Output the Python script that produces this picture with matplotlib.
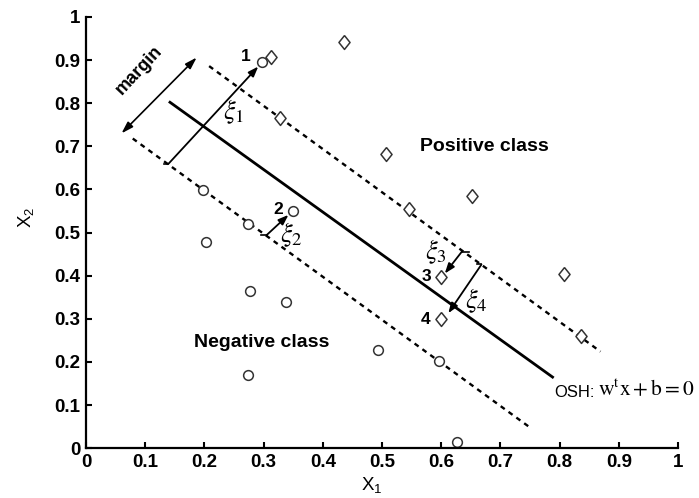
import matplotlib.pyplot as plt
import numpy as np

plt.rcParams['font.family'] = ['Liberation Sans', 'DejaVu Sans']

# positive class samples (diamonds)
pos_x = [0.313, 0.435, 0.328, 0.507, 0.546, 0.652, 0.808, 0.600, 0.599, 0.836]
pos_y = [0.908, 0.942, 0.766, 0.682, 0.554, 0.585, 0.403, 0.396, 0.299, 0.261]

# negative class samples (circles)
neg_x = [0.298, 0.198, 0.203, 0.273, 0.349, 0.277, 0.338, 0.274, 0.494, 0.596, 0.626]
neg_y = [0.895, 0.599, 0.477, 0.521, 0.550, 0.365, 0.339, 0.169, 0.227, 0.203, 0.015]

# optimal separating hyperplane and the two margin boundaries
osh_x = [0.140, 0.790]
osh_y = [0.804, 0.163]
upper_x = [0.208, 0.869]
upper_y = [0.886, 0.224]
lower_x = [0.079, 0.750]
lower_y = [0.718, 0.048]

# margin width arrow
margin_x = [0.060, 0.187]
margin_y = [0.730, 0.906]

# slack arrows xi_1..xi_4: start, tip, hook direction, label position
xi_x0 = [0.139, 0.305, 0.635, 0.668]
xi_y0 = [0.659, 0.494, 0.456, 0.426]
xi_x1 = [0.291, 0.342, 0.606, 0.612]
xi_y1 = [0.885, 0.541, 0.405, 0.313]
xi_hook = [-0.008, -0.010, 0.012, -0.008]
xi_lx = [0.250, 0.347, 0.592, 0.660]
xi_ly = [0.780, 0.494, 0.455, 0.343]

# numbers next to the points with slack
num_lbl = ['1', '2', '3', '4']
num_x = [0.270, 0.324, 0.575, 0.574]
num_y = [0.908, 0.554, 0.397, 0.298]

fig = plt.figure(figsize=(6.99, 4.98), dpi=100)
ax = fig.add_axes([0.123, 0.100, 0.847, 0.866])

dark = '#333333'
diamond = [(0, 1), (0.8, 0), (0, -1), (-0.8, 0), (0, 1)]

ax.plot(osh_x, osh_y, color='black', lw=2.0, solid_capstyle='butt')
ax.plot(upper_x, upper_y, color='black', lw=1.7, ls=(0, (2.1, 2.0)))
ax.plot(lower_x, lower_y, color='black', lw=1.7, ls=(0, (2.1, 2.0)))

ax.plot(pos_x, pos_y, ls='none', marker=diamond, markersize=10,
        mfc='white', mec=dark, mew=1.1)
ax.plot(neg_x, neg_y, ls='none', marker='o', markersize=7,
        mfc='white', mec=dark, mew=1.1)

# margin arrow and label
ax.annotate('', xy=(margin_x[1], margin_y[1]), xytext=(margin_x[0], margin_y[0]),
            arrowprops=dict(arrowstyle='<|-|>,head_length=0.7,head_width=0.22',
                            color='black', lw=1.2, shrinkA=0, shrinkB=0))
ax.text(0.089, 0.877, 'margin', rotation=47, ha='center', va='center',
        fontsize=13, fontweight='bold')

# slack arrows
for i in range(4):
    ax.plot([xi_x0[i] + xi_hook[i], xi_x0[i]], [xi_y0[i], xi_y0[i]],
            color='black', lw=1.2)
    ax.annotate('', xy=(xi_x1[i], xi_y1[i]), xytext=(xi_x0[i], xi_y0[i]),
                arrowprops=dict(arrowstyle='-|>,head_length=0.6,head_width=0.22',
                                color='black', lw=1.3, shrinkA=0, shrinkB=0))
    ax.text(xi_lx[i], xi_ly[i], r'$\xi_{%d}$' % (i + 1), ha='center', va='center',
            fontsize=19, math_fontfamily='stix')
    ax.text(num_x[i], num_y[i], num_lbl[i], ha='center', va='center',
            fontsize=12.5, fontweight='bold')

ax.text(0.673, 0.699, 'Positive class', ha='center', va='center',
        fontsize=14, fontweight='bold')
ax.text(0.296, 0.244, 'Negative class', ha='center', va='center',
        fontsize=14, fontweight='bold')

ax.text(0.791, 0.130, 'OSH:', ha='left', va='center', fontsize=12, clip_on=False)
ax.text(0.865, 0.136, r'$\mathrm{w}^{\mathrm{t}}\mathrm{x}+\mathrm{b}=0$',
        ha='left', va='center', fontsize=15.5, math_fontfamily='stix', clip_on=False)

ax.set_xlim(0, 1)
ax.set_ylim(0, 1)
ticks = np.round(np.arange(0, 1.01, 0.1), 1)
tick_lbl = ['0', '0.1', '0.2', '0.3', '0.4', '0.5', '0.6', '0.7', '0.8', '0.9', '1']
ax.set_xticks(ticks)
ax.set_xticklabels(tick_lbl)
ax.set_yticks(ticks)
ax.set_yticklabels(tick_lbl)
for lbl in ax.get_xticklabels() + ax.get_yticklabels():
    lbl.set_fontweight('bold')
ax.tick_params(direction='in', length=4, width=1.5, labelsize=13.5, pad=4)

for side in ['top', 'right']:
    ax.spines[side].set_visible(False)
for side in ['left', 'bottom']:
    ax.spines[side].set_linewidth(1.6)

ax.set_xlabel(r'X$_\mathregular{1}$', fontsize=13.5, va='center')
ax.xaxis.set_label_coords(0.483, -0.088)
ax.set_ylabel(r'X$_\mathregular{2}$', fontsize=13.5, va='center')
ax.yaxis.set_label_coords(-0.100, 0.536)

fig.savefig('out.png', dpi=100)
